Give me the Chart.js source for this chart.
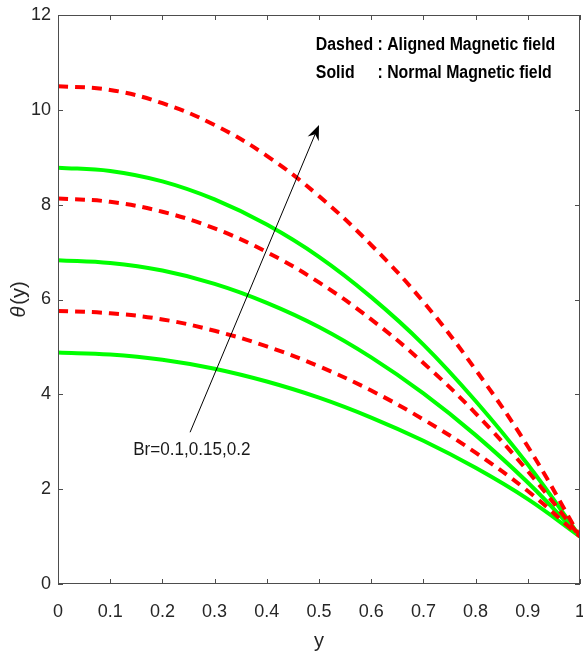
<!DOCTYPE html>
<html>
<head>
<meta charset="utf-8">
<script src="https://cdn.jsdelivr.net/npm/chart.js@4.4.0/dist/chart.umd.min.js"></script>
<style>
  html, body { margin: 0; padding: 0; background: #fff; }
</style>
</head>
<body>
<canvas id="chart" width="583" height="657"></canvas>
<script>
// y positions across the channel
const yPos = [0, 0.1, 0.2, 0.3, 0.4, 0.5, 0.6, 0.7, 0.8, 0.9, 1];

// temperature profiles (Br = 0.1, 0.15, 0.2)
const alignedBr01  = [5.76, 5.71, 5.58, 5.34, 5.01, 4.59, 4.08, 3.47, 2.77, 1.96, 1.00];
const alignedBr015 = [8.13, 8.06, 7.85, 7.50, 7.00, 6.36, 5.58, 4.66, 3.60, 2.38, 1.00];
const alignedBr02  = [10.50, 10.42, 10.14, 9.68, 9.03, 8.18, 7.15, 5.95, 4.52, 2.90, 1.00];
const normalBr01   = [4.88, 4.84, 4.73, 4.54, 4.27, 3.93, 3.51, 3.02, 2.45, 1.79, 1.00];
const normalBr015  = [6.83, 6.77, 6.61, 6.33, 5.93, 5.42, 4.78, 4.02, 3.14, 2.14, 1.00];
const normalBr02   = [8.78, 8.71, 8.49, 8.11, 7.58, 6.90, 6.05, 5.05, 3.86, 2.52, 1.00];

const xTicks = [0, 0.1, 0.2, 0.3, 0.4, 0.5, 0.6, 0.7, 0.8, 0.9, 1];
const xTickLabels = ['0', '0.1', '0.2', '0.3', '0.4', '0.5', '0.6', '0.7', '0.8', '0.9', '1'];
const yTicks = [0, 2, 4, 6, 8, 10, 12];
const yTickLabels = ['0', '2', '4', '6', '8', '10', '12'];

// arrow + labels (data coordinates)
const arrowFrom = { x: 0.253, y: 3.2 };
const arrowTo = { x: 0.5, y: 9.68 };
const brLabel = { x: 0.144, y: 2.83, text: 'Br=0.1,0.15,0.2' };
const noteLine1 = { x: 0.494, y: 11.37, head: 'Dashed ', tail: ': Aligned Magnetic field' };
const noteLine2 = { x: 0.494, y: 10.78, head: 'Solid', tail: ': Normal Magnetic field' };

const FONT = '"Liberation Sans", Arial, sans-serif';

function pts(vals) {
  return yPos.map((x, i) => ({ x: x, y: vals[i] }));
}

function dashed(vals) {
  return { data: pts(vals), borderColor: '#ff0000', borderWidth: 4, borderDash: [10, 7],
    pointRadius: 0, fill: false, tension: 0.4 };
}
function solid(vals) {
  return { data: pts(vals), borderColor: '#00ff00', borderWidth: 4,
    pointRadius: 0, fill: false, tension: 0.4 };
}

// squeezed text, to imitate the condensed face of the original
function narrowText(ctx, text, x, y, k) {
  ctx.save();
  ctx.translate(x, y);
  ctx.scale(k, 1);
  ctx.fillText(text, 0, 0);
  ctx.restore();
}

// frame, inside ticks, arrow and texts
const decorations = {
  id: 'decorations',
  afterDatasetsDraw(chart) {
    const { ctx, chartArea: a, scales } = chart;
    const sx = scales.x, sy = scales.y;
    ctx.save();

    ctx.strokeStyle = '#4d4d4d';
    ctx.lineWidth = 1;
    ctx.strokeRect(a.left + 0.5, a.top + 0.5, a.right - a.left - 1, a.bottom - a.top - 1);
    ctx.beginPath();
    xTicks.forEach(v => {
      const px = Math.round(sx.getPixelForValue(v)) + 0.5;
      ctx.moveTo(px, a.bottom); ctx.lineTo(px, a.bottom - 5);
      ctx.moveTo(px, a.top); ctx.lineTo(px, a.top + 5);
    });
    yTicks.forEach(v => {
      const py = Math.round(sy.getPixelForValue(v)) + 0.5;
      ctx.moveTo(a.left, py); ctx.lineTo(a.left + 5, py);
      ctx.moveTo(a.right, py); ctx.lineTo(a.right - 5, py);
    });
    ctx.stroke();

    // arrow
    const x0 = sx.getPixelForValue(arrowFrom.x), y0 = sy.getPixelForValue(arrowFrom.y);
    const x1 = sx.getPixelForValue(arrowTo.x), y1 = sy.getPixelForValue(arrowTo.y);
    const ang = Math.atan2(y1 - y0, x1 - x0);
    ctx.strokeStyle = '#000';
    ctx.lineWidth = 1;
    ctx.beginPath();
    ctx.moveTo(x0, y0);
    ctx.lineTo(x1 - 8 * Math.cos(ang), y1 - 8 * Math.sin(ang));
    ctx.stroke();
    ctx.translate(x1, y1);
    ctx.rotate(ang);
    ctx.fillStyle = '#000';
    ctx.beginPath();
    ctx.moveTo(0, 0);
    ctx.lineTo(-15, -6);
    ctx.lineTo(-10, 0);
    ctx.lineTo(-15, 6);
    ctx.closePath();
    ctx.fill();
    ctx.setTransform(1, 0, 0, 1, 0, 0);

    ctx.textBaseline = 'middle';
    ctx.textAlign = 'left';

    // Br label
    ctx.fillStyle = '#1a1a1a';
    ctx.font = '19px ' + FONT;
    narrowText(ctx, brLabel.text, sx.getPixelForValue(brLabel.x), sy.getPixelForValue(brLabel.y), 0.9);

    // note in the corner
    ctx.fillStyle = '#000';
    ctx.font = 'bold 18px ' + FONT;
    const k = 0.88;
    const nx = sx.getPixelForValue(noteLine1.x);
    const headW = ctx.measureText(noteLine1.head).width * k;
    narrowText(ctx, noteLine1.head + noteLine1.tail, nx, sy.getPixelForValue(noteLine1.y), k);
    narrowText(ctx, noteLine2.head, nx, sy.getPixelForValue(noteLine2.y), k);
    narrowText(ctx, noteLine2.tail, nx + headW, sy.getPixelForValue(noteLine2.y), k);

    // y axis title: italic theta, upright (y)
    ctx.save();
    ctx.translate(19, (a.top + a.bottom) / 2);
    ctx.rotate(-Math.PI / 2);
    ctx.fillStyle = '#262626';
    ctx.textAlign = 'left';
    ctx.font = 'italic 20px ' + FONT;
    const thW = ctx.measureText('θ').width;
    ctx.font = '20px ' + FONT;
    const pW = ctx.measureText('(y)').width;
    const start = -(thW + pW + 2) / 2;
    ctx.font = 'italic 20px ' + FONT;
    ctx.fillText('θ', start, 0);
    ctx.font = '20px ' + FONT;
    ctx.fillText('(y)', start + thW + 2, 0);
    ctx.restore();

    ctx.restore();
  }
};

new Chart(document.getElementById('chart'), {
  type: 'line',
  data: {
    datasets: [
      dashed(alignedBr02), dashed(alignedBr015), dashed(alignedBr01),
      solid(normalBr02), solid(normalBr015), solid(normalBr01)
    ]
  },
  options: {
    responsive: false,
    animation: false,
    layout: { padding: { left: 0, top: 15, right: 3, bottom: 0 } },
    plugins: { legend: { display: false }, tooltip: { enabled: false } },
    scales: {
      x: {
        type: 'linear', min: 0, max: 1,
        afterBuildTicks: s => { s.ticks = xTicks.map(v => ({ value: v })); },
        afterFit: s => { s.height = 73; s.paddingLeft = 0; s.paddingRight = 0; },
        grid: { display: false, drawTicks: false },
        border: { display: false },
        ticks: {
          padding: 17, color: '#262626', maxRotation: 0, autoSkip: false,
          font: { family: FONT, size: 18 },
          callback: (v, i) => xTickLabels[i]
        },
        title: { display: true, text: 'y', color: '#262626', padding: { top: 2 },
          font: { family: FONT, size: 20 } }
      },
      y: {
        type: 'linear', min: 0, max: 12,
        afterBuildTicks: s => { s.ticks = yTicks.map(v => ({ value: v })); },
        afterFit: s => { s.width = 58; s.paddingTop = 0; s.paddingBottom = 0; },
        grid: { display: false, drawTicks: false },
        border: { display: false },
        ticks: {
          padding: 7, color: '#262626', autoSkip: false,
          font: { family: FONT, size: 18 },
          callback: (v, i) => yTickLabels[i]
        },
        title: { display: false }
      }
    }
  },
  plugins: [decorations]
});
</script>
</body>
</html>
